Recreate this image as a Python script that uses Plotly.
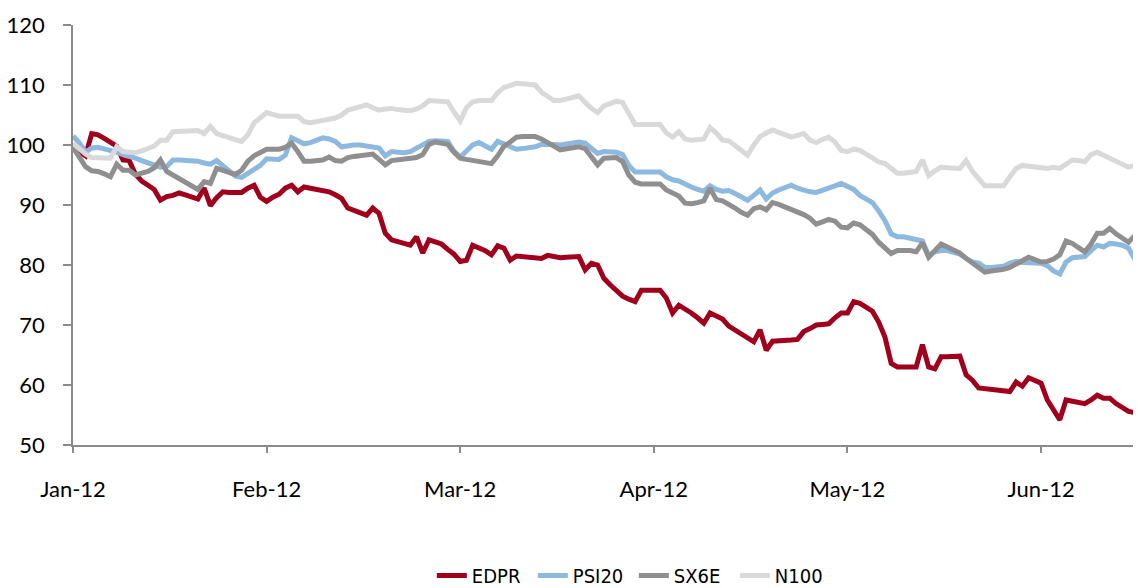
import plotly.graph_objects as go

# x positions: one category per day-slot on the original category axis
day_index = list(range(172))
tick_positions = [0, 31, 62, 93, 124, 155]
tick_labels = ["Jan-12", "Feb-12", "Mar-12", "Apr-12", "May-12", "Jun-12"]

edpr = [
    99.5, 98.9, 98.2, 101.9, 101.7, 101.1, 100.5, 99.8, 97.5, 97.4,
    95.1, 94.0, 93.3, 92.6, 90.8, 91.4, 91.6, 92.0, 91.7, 91.3,
    91.0, 92.8, 89.9, 91.2, 92.2, 92.1, 92.1, 92.1, 92.8, 93.3,
    91.3, 90.6, 91.3, 91.8, 92.8, 93.3, 92.2, 93.0, 92.8, 92.6,
    92.3, 92.2, 91.7, 91.1, 89.5, 89.1, 88.7, 88.3, 89.5, 88.6,
    85.3, 84.2, 83.9, 83.5, 83.3, 84.7, 82.0, 84.2, 83.8, 83.5,
    82.6, 81.8, 80.6, 80.8, 83.3, 82.9, 82.4, 81.7, 83.2, 82.8,
    80.8, 81.5, 81.4, 81.3, 81.2, 81.1, 81.6, 81.4, 81.2, 81.3,
    81.3, 81.4, 79.2, 80.3, 80.0, 77.8, 76.7, 75.6, 74.8, 74.3,
    73.9, 75.8, 75.8, 75.8, 75.8, 74.5, 72.0, 73.3, 72.7, 72.0,
    71.2, 70.3, 72.0, 71.5, 71.0, 69.8, 69.2, 68.5, 67.8, 67.2,
    69.2, 65.8, 67.3, 67.3, 67.4, 67.5, 67.6, 68.9, 69.4, 70.0,
    70.1, 70.2, 71.2, 72.0, 72.0, 73.9, 73.6, 73.0, 72.3, 70.5,
    68.0, 63.6, 63.0, 63.0, 63.0, 63.0, 66.7, 63.0, 62.7, 64.7,
    64.7, 64.8, 64.8, 61.7, 60.8, 59.5, 59.4, 59.2, 59.1, 59.0,
    58.9, 60.5, 59.8, 61.2, 60.8, 60.3, 57.5, 55.8, 54.2, 57.5,
    57.3, 57.1, 56.9, 57.5, 58.3, 57.8, 57.8, 56.9, 56.2, 55.6,
    55.4, 57.2,
]

psi20 = [
    101.5, 100.4, 98.8, 99.5, 99.6, 99.4, 99.2, 98.8, 98.4, 98.2,
    97.8, 97.4, 97.0, 96.7, 96.3, 96.4, 97.5, 97.5, 97.5, 97.4,
    97.3, 97.0, 96.8, 97.4, 96.5, 95.6, 94.8, 94.6, 95.2, 95.8,
    96.6, 97.7, 97.6, 97.6, 98.3, 101.2, 100.7, 100.2, 100.4, 100.8,
    101.2, 101.0, 100.6, 99.7, 99.9, 100.0, 100.0, 99.9, 99.7, 99.5,
    98.2, 98.9, 98.8, 98.7, 98.9, 99.5, 100.0, 100.6, 100.7, 100.7,
    100.6, 99.0, 98.0, 99.0, 100.0, 100.4, 99.9, 99.3, 100.6, 100.2,
    99.6, 99.3, 99.4, 99.5, 99.7, 100.1, 100.2, 100.1, 100.0, 100.2,
    100.3, 100.5, 100.3, 99.4, 98.6, 98.9, 98.9, 98.8, 98.4, 96.6,
    95.5, 95.5, 95.5, 95.5, 95.5, 94.7, 94.2, 94.0, 93.4, 93.0,
    92.6, 92.3, 93.2, 92.6, 92.3, 92.4, 91.9, 91.3, 90.8, 91.6,
    92.5, 91.0, 92.0, 92.5, 92.9, 93.3, 92.8, 92.4, 92.2, 92.1,
    92.4, 92.7, 93.2, 93.6, 93.0, 92.6, 91.6, 91.0, 90.4, 89.0,
    87.4, 85.2, 84.7, 84.7, 84.5, 84.3, 84.0, 81.6, 82.2, 82.4,
    82.4, 82.1, 81.8, 81.1, 80.5, 80.3, 79.6, 79.6, 79.7, 79.8,
    80.3, 80.6, 80.4, 80.3, 80.3, 80.3, 79.9, 79.0, 78.5, 80.5,
    81.2, 81.3, 81.4, 82.4, 83.3, 83.0, 83.6, 83.5, 83.3, 82.8,
    81.0, 82.4,
]

sx6e = [
    99.6, 98.1, 96.4, 95.7, 95.6, 95.2, 94.7, 96.8, 95.8, 95.8,
    95.0, 95.3, 95.6, 96.2, 97.5, 95.6, 95.0, 94.4, 93.8, 93.1,
    92.6, 93.9, 93.6, 96.1, 95.8, 95.4, 95.1, 95.8, 97.3, 98.2,
    98.8, 99.3, 99.3, 99.3, 99.6, 100.3, 98.9, 97.3, 97.3, 97.4,
    97.5, 98.0, 97.4, 97.3, 97.9, 98.1, 98.3, 98.5, 98.5, 97.6,
    96.7, 97.4, 97.5, 97.6, 97.7, 97.9, 98.4, 100.1, 100.5, 100.3,
    100.1, 98.8, 97.8, 97.6, 97.4, 97.3, 97.1, 96.9, 98.2, 99.8,
    100.5, 101.3, 101.4, 101.4, 101.4, 101.0, 100.5, 99.8, 99.2, 99.4,
    99.5, 99.7, 99.4, 98.0, 96.7, 97.8, 97.8, 97.9, 97.2, 95.0,
    93.8, 93.5, 93.5, 93.5, 93.5, 92.5, 91.9, 91.5, 90.3, 90.2,
    90.4, 90.7, 92.8, 90.9, 90.7, 90.2, 89.5, 88.8, 88.3, 89.4,
    89.7, 89.2, 90.4, 90.1, 89.7, 89.3, 88.8, 88.4, 87.8, 86.8,
    87.2, 87.6, 87.3, 86.3, 86.2, 87.0, 86.7, 85.9, 85.1, 83.8,
    82.9, 81.9, 82.4, 82.5, 82.4, 82.2, 83.7, 81.3, 82.3, 83.5,
    83.0, 82.5, 82.0, 81.1, 80.3, 79.5, 78.8, 79.0, 79.1, 79.3,
    79.6, 80.2, 80.7, 81.3, 80.9, 80.5, 80.6, 81.0, 81.7, 84.0,
    83.6, 83.0, 82.2, 83.5, 85.3, 85.3, 86.1, 85.2, 84.4, 83.8,
    84.9, 86.9,
]

n100 = [
    100.3, 99.4, 98.5, 97.9, 97.8, 97.8, 97.8, 99.7, 98.9, 98.8,
    98.7, 99.0, 99.4, 99.8, 100.8, 100.8, 102.2, 102.2, 102.3, 102.4,
    102.4, 101.9, 103.1, 101.9, 101.5, 101.2, 100.9, 100.6, 101.7, 103.7,
    104.5, 105.4, 105.1, 104.8, 104.8, 104.7, 104.8, 103.9, 103.7, 103.9,
    104.1, 104.2, 104.5, 105.0, 105.8, 106.1, 106.4, 106.7, 106.2, 105.8,
    106.0, 106.1, 105.9, 105.7, 105.7, 106.0, 106.5, 107.4, 107.4, 107.3,
    107.2, 105.5, 104.0, 106.2, 107.2, 107.4, 107.4, 107.4, 108.7, 109.6,
    109.9, 110.3, 110.2, 110.1, 110.0, 108.8, 108.1, 107.4, 107.4, 107.7,
    108.0, 108.2, 107.1, 106.1, 105.4, 106.5, 106.9, 107.3, 107.1, 105.3,
    103.4, 103.4, 103.4, 103.4, 103.4, 102.0, 101.3, 102.2, 101.0, 100.8,
    100.9, 101.0, 102.9, 102.0, 100.8, 100.7, 99.9, 99.1, 98.3, 100.0,
    101.4, 102.0, 102.5, 102.1, 101.7, 101.3, 101.6, 101.9, 100.8, 100.4,
    100.9, 101.3, 100.5, 99.1, 98.9, 99.3, 99.1, 98.4, 97.7, 97.2,
    96.9, 96.0, 95.3, 95.3, 95.4, 95.6, 97.5, 94.9, 95.7, 96.3,
    96.2, 96.1, 96.1, 97.4, 95.6, 94.4, 93.2, 93.2, 93.2, 93.2,
    94.7, 96.1, 96.6, 96.5, 96.4, 96.2, 96.1, 96.3, 96.1, 96.8,
    97.5, 97.4, 97.2, 98.4, 98.8, 98.3, 97.8, 97.2, 96.7, 96.3,
    96.6, 98.0,
]

series_names = ["EDPR", "PSI20", "SX6E", "N100"]
series_values = [edpr, psi20, sx6e, n100]
series_colors = ["#A0001C", "#8DB8DF", "#8F8F8F", "#D9D9D9"]

fig = go.Figure()
for name, vals, col in zip(series_names, series_values, series_colors):
    fig.add_trace(go.Scatter(
        x=day_index, y=vals, name=name, mode="lines",
        line=dict(color=col, width=5),
    ))

font_family = "Lato, Calibri, Carlito, 'Open Sans', sans-serif"
legend_family = "'Liberation Sans Narrow', 'DejaVu Sans Condensed', Lato, sans-serif"
axis_col = "#8A8A8A"

# the page body adds an 8px offset, so the figure is sized to fill the rest of the window
fig.update_layout(
    width=1133, height=580,
    margin=dict(l=65, r=0, t=17, b=143, autoexpand=False),
    paper_bgcolor="white", plot_bgcolor="white",
    font=dict(family=font_family, size=22, color="#000000"),
    showlegend=True,
    legend=dict(
        orientation="h", x=0.336, xanchor="left", y=-0.311, yanchor="middle",
        font=dict(family=legend_family, size=20, color="#000000"),
        itemwidth=30, tracegroupgap=0, entrywidth=56, entrywidthmode="pixels",
        bgcolor="rgba(0,0,0,0)",
    ),
    xaxis=dict(
        range=[0, 171], tickmode="array", tickvals=tick_positions, ticktext=tick_labels,
        showgrid=False, zeroline=False, showline=True, linecolor=axis_col, linewidth=1.5,
        ticks="outside", ticklen=6, tickcolor=axis_col, tickwidth=1.5, automargin=False,
        ticklabelstandoff=18, tickfont=dict(size=22, color="#000000"),
    ),
    yaxis=dict(
        range=[50, 120], tickmode="array", tickvals=[50, 60, 70, 80, 90, 100, 110, 120],
        showgrid=False, zeroline=False, showline=True, linecolor=axis_col, linewidth=1.5,
        ticks="outside", ticklen=8, tickcolor=axis_col, tickwidth=1.5, automargin=False,
        ticklabelstandoff=14, tickfont=dict(size=22, color="#000000"),
    ),
)

fig.write_html("out.html")
